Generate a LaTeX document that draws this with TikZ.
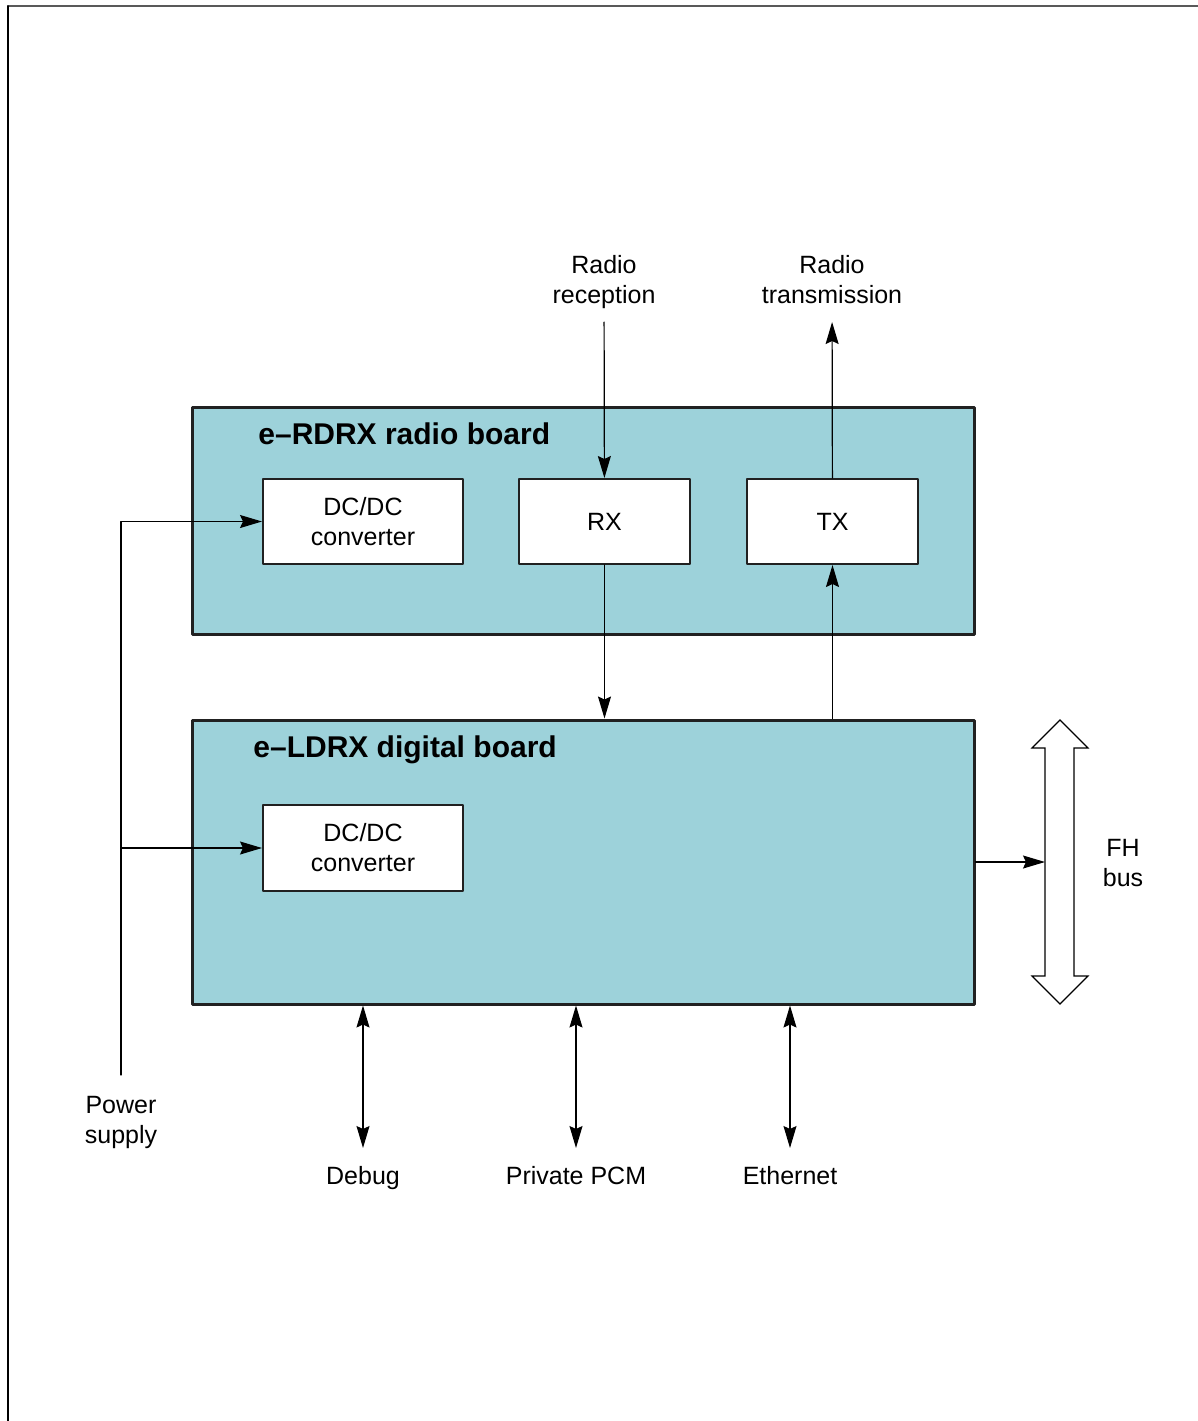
\documentclass[tikz,border=0pt]{standalone}
\usepackage{fontspec}
\setmainfont{Liberation Sans}
\usepackage{xcolor}
\usetikzlibrary{arrows.meta,calc}
\definecolor{boardfill}{RGB}{157,210,218}

\begin{document}
\begin{tikzpicture}[line cap=round,line join=round,>={Stealth[length=11pt,width=6.5pt,inset=1.5pt]},x=0.5pt,y=-0.5pt,
  board/.style={draw=black!87,line width=1.5pt,fill=boardfill},
  unit/.style={draw=black!87,line width=1pt,fill=white,align=center,font=\fontsize{12.5}{15}\selectfont},
  lbl/.style={inner xsep=0pt,inner ysep=9pt,align=center,font=\fontsize{12.5}{15}\selectfont},
  boardtitle/.style={anchor=base west,inner sep=0pt,font=\fontsize{15}{18}\selectfont\bfseries},
  wire/.style={line width=0.6pt}]
\useasboundingbox (0,0) rectangle (1198,1421);
% page frame
\draw[line width=1pt,black!65] (8,6) -- (1198,6);
\draw[line width=1pt] (8,6) -- (8,1421);
% boards
\node[board,minimum width=391pt,minimum height=113.5pt] (radio) at (583,520.5) {};
\node[board,minimum width=391pt,minimum height=142pt] (digital) at (583,862) {};
\node[boardtitle] (radiottl) at (258,444) {e–RDRX radio board};
\node[boardtitle] (digitalttl) at (253,757) {e–LDRX digital board};
% blocks
\node[unit,minimum width=100pt,minimum height=42.5pt] (dcradio) at (363,521.5) {DC/DC\\converter};
\node[unit,minimum width=85.5pt,minimum height=42.5pt] (rx) at (604.5,521.5) {RX};
\node[unit,minimum width=85.5pt,minimum height=42.5pt] (tx) at (832.5,521.5) {TX};
\node[unit,minimum width=100pt,minimum height=43pt] (dcdigital) at (363,848) {DC/DC\\converter};
% FH bus
\draw[wire,line join=miter,fill=white] (1045,748) -- (1032,748) -- (1060,720) -- (1088,748) -- (1074,748)
  -- (1074,976) -- (1088,976) -- (1060,1004) -- (1032,976) -- (1045,976) -- cycle;
\coordinate (buswest) at (1045,862);
% labels
\node[lbl,anchor=south,text depth=0pt] (rxlbl) at (604,322) {Radio\\reception};
\node[lbl,anchor=south,text depth=0pt] (txlbl) at (832,322) {Radio\\transmission};
\node[lbl,anchor=north,inner ysep=10.5pt] (psulbl) at (121,1075) {Power\\supply};
\node[lbl,anchor=north] (debuglbl) at (363,1148) {Debug};
\node[lbl,anchor=north] (pcmlbl) at (576,1148) {Private PCM};
\node[lbl,anchor=north] (ethlbl) at (790,1148) {Ethernet};
\node[lbl] (buslbl) at (1123,863) {FH\\bus};
% connections
\draw[wire,->] (rxlbl) -- (rx);
\draw[wire,->] (tx) -- (txlbl);
\draw[wire,->] (rx) -- (rx |- digital.north);
\draw[wire,->] (tx |- digital.north) -- (tx);
\draw[wire,->] (psulbl) |- (dcradio);
\draw[wire,->] (psulbl |- dcdigital) -- (dcdigital);
\draw[wire,->] (digital.east) -- (buswest);
\draw[wire,<->] (debuglbl |- digital.south) -- (debuglbl);
\draw[wire,<->] (pcmlbl |- digital.south) -- (pcmlbl);
\draw[wire,<->] (ethlbl |- digital.south) -- (ethlbl);
\end{tikzpicture}
\end{document}
